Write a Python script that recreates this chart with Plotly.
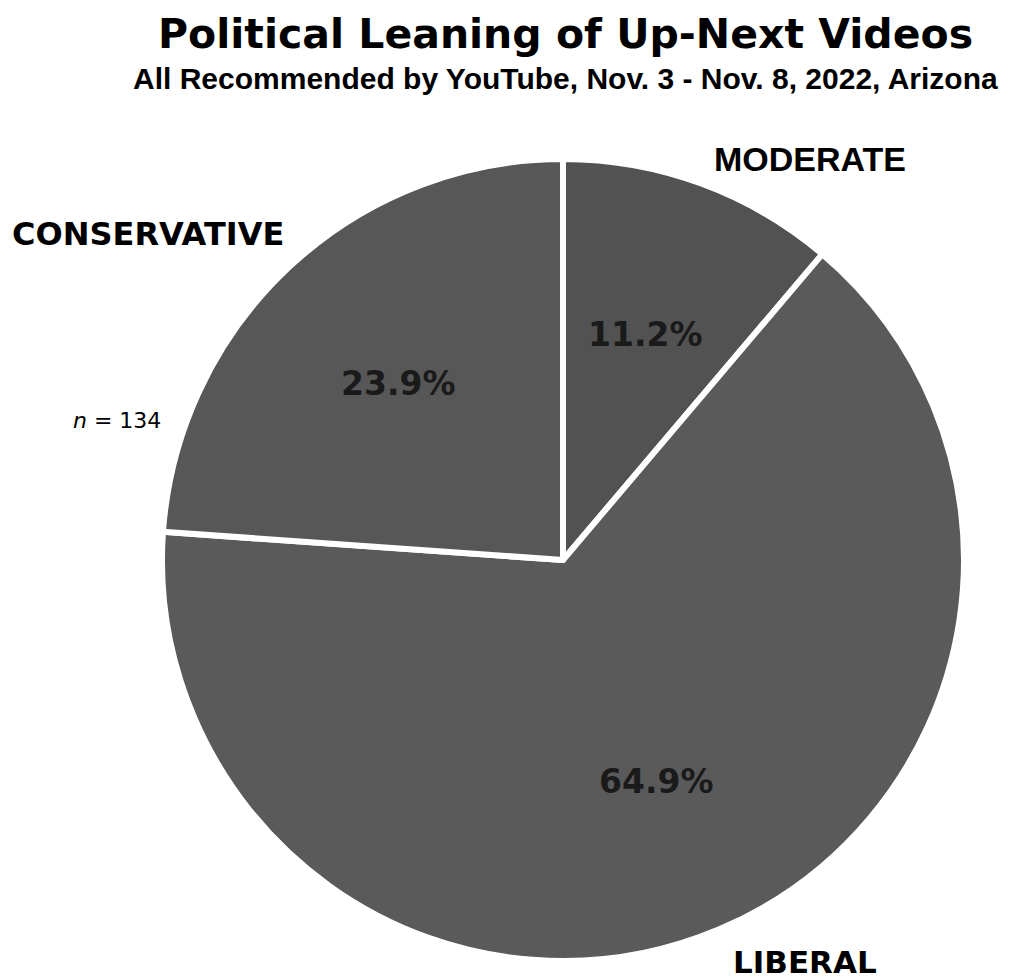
import math
import plotly.graph_objects as go

labels = ["MODERATE", "LIBERAL", "CONSERVATIVE"]
counts = [15, 87, 32]
n_total = 134
colors = ["#525252", "#5a5a5a", "#575757"]
label_fonts = ["Liberation Sans", "DejaVu Sans", "DejaVu Sans"]
label_sizes = [34, 31, 32]
label_shift = [(-3, -13), (-3, 5), (24, 3)]

W, H = 1018, 979
CX, CY, R = 563, 560, 401

fig = go.Figure(go.Pie(
    labels=labels, values=counts, sort=False, direction="clockwise", rotation=0,
    marker=dict(colors=colors, line=dict(color="white", width=6)),
    textinfo="none", hoverinfo="label+percent", showlegend=False,
    domain=dict(x=[(CX - R) / W, (CX + R) / W], y=[1 - (CY + R) / H, 1 - (CY - R) / H]),
))

total = sum(counts)
ann = []
cum = 0
for lab, c, fnt, fs, (dx, dy) in zip(labels, counts, label_fonts, label_sizes, label_shift):
    mid = (cum + c / 2) / total * 2 * math.pi
    cum += c
    sx, sy = math.sin(mid), -math.cos(mid)
    px, py = CX + 0.6 * R * sx, CY + 0.6 * R * sy
    ann.append(dict(x=px / W, y=1 - py / H, xref="paper", yref="paper", showarrow=False,
                    text=f"<b>{100 * c / total:.1f}%</b>", xanchor="center", yanchor="middle",
                    font=dict(family="DejaVu Sans", size=33, color="#1a1a1a")))
    lx, ly = CX + 1.1 * R * sx, CY + 1.1 * R * sy
    ann.append(dict(x=lx / W, y=1 - ly / H, xref="paper", yref="paper", showarrow=False,
                    xshift=dx, yshift=dy,
                    text=f"<b>{lab}</b>", xanchor="left" if sx > 0 else "right", yanchor="middle",
                    font=dict(family=fnt, size=fs, color="black")))

ann.append(dict(x=565 / W, y=1 - 34 / H, xref="paper", yref="paper", showarrow=False,
                text="<b>Political Leaning of Up-Next Videos</b>", xanchor="center", yanchor="middle",
                font=dict(family="DejaVu Sans", size=41, color="black")))
ann.append(dict(x=565 / W, y=1 - 78 / H, xref="paper", yref="paper", showarrow=False,
                text="<b>All Recommended by YouTube, Nov. 3 - Nov. 8, 2022, Arizona</b>",
                xanchor="center", yanchor="middle",
                font=dict(family="Liberation Sans", size=30, color="black")))
ann.append(dict(x=117 / W, y=1 - 421 / H, xref="paper", yref="paper", showarrow=False,
                text=f"<i>n</i> = {n_total}", xanchor="center", yanchor="middle",
                font=dict(family="DejaVu Sans", size=22, color="black")))

fig.update_layout(width=W, height=H, margin=dict(l=0, r=0, t=0, b=0),
                  paper_bgcolor="white", plot_bgcolor="white", annotations=ann)
fig.write_html("out.html")
